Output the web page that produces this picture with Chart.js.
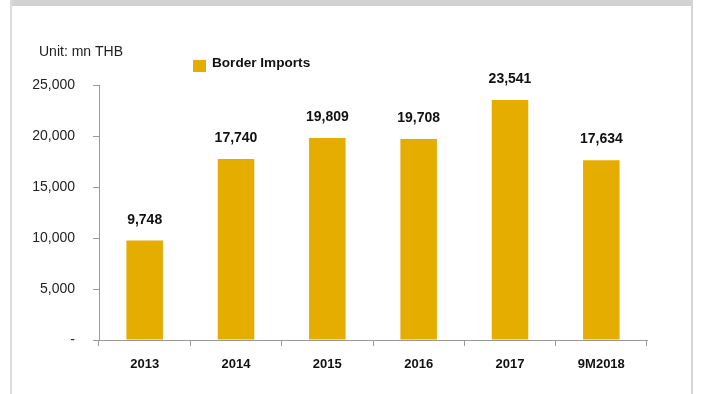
<!DOCTYPE html>
<html>
<head>
<meta charset="utf-8">
<script src="https://cdn.jsdelivr.net/npm/chart.js@4/dist/chart.umd.min.js"></script>
<style>
  html, body { margin: 0; padding: 0; background: #fff; }
  #wrap { position: relative; width: 704px; height: 394px; overflow: hidden; }
  #wrap canvas { position: absolute; left: 0; top: 0; }
  .frame { position: absolute; }
  #frameTop { left: 10px; top: 0; width: 683px; height: 6px; background: #d3d3d3; }
  #frameLeft { left: 10px; top: 0; width: 2px; height: 394px; background: #dcdcdc; }
  #frameRight { left: 691px; top: 0; width: 2px; height: 394px; background: #d6d6d6; }
</style>
</head>
<body>
<div id="wrap">
  <canvas id="chart" width="704" height="394"></canvas>
  <div class="frame" id="frameTop"></div>
  <div class="frame" id="frameLeft"></div>
  <div class="frame" id="frameRight"></div>
</div>
<script>
// Border imports by year, million THB
const categories = ['2013', '2014', '2015', '2016', '2017', '9M2018'];
const borderImports = [9748, 17740, 19809, 19708, 23541, 17634];
const seriesName = 'Border Imports';
const unitLabel = 'Unit: mn THB';
const yTicks = [0, 5000, 10000, 15000, 20000, 25000];

const BAR_COLOR = '#e4ad00';
const AXIS_COLOR = '#9a9a9a';
const FONT = 'Arial, "Liberation Sans", sans-serif';

const fmt = v => v.toLocaleString('en-US');

// Value labels above bars, unit caption and legend entry
const annotations = {
  id: 'annotations',
  afterDatasetsDraw(chart) {
    const ctx = chart.ctx;
    const meta = chart.getDatasetMeta(0);
    const data = chart.data.datasets[0].data;
    ctx.save();
    ctx.fillStyle = '#111';
    ctx.font = 'bold 14px ' + FONT;
    ctx.textAlign = 'center';
    ctx.textBaseline = 'alphabetic';
    meta.data.forEach((bar, i) => {
      ctx.fillText(fmt(data[i]), bar.x, bar.y - 17);
    });

    ctx.textAlign = 'left';
    ctx.font = '14px ' + FONT;
    ctx.fillStyle = '#222';
    ctx.fillText(unitLabel, 39, 56);

    const ds = chart.data.datasets[0];
    ctx.fillStyle = ds.backgroundColor;
    ctx.fillRect(193, 60, 13, 12);
    ctx.fillStyle = '#111';
    ctx.font = 'bold 13.6px ' + FONT;
    ctx.fillText(ds.label, 212, 67);
    ctx.restore();
  }
};

new Chart(document.getElementById('chart'), {
  type: 'bar',
  data: {
    labels: categories,
    datasets: [{
      label: seriesName,
      data: borderImports,
      backgroundColor: BAR_COLOR,
      borderWidth: 0,
      barPercentage: 0.4,
      categoryPercentage: 1.0
    }]
  },
  options: {
    responsive: false,
    animation: false,
    layout: { padding: { left: 0, right: 57, top: 85, bottom: 0 } },
    plugins: {
      legend: { display: false },
      tooltip: { enabled: false }
    },
    scales: {
      x: {
        offset: true,
        grid: {
          offset: true,
          drawOnChartArea: false,
          drawTicks: true,
          tickLength: 6,
          color: AXIS_COLOR
        },
        border: { display: true, color: AXIS_COLOR },
        ticks: {
          color: '#111',
          font: { family: FONT, size: 13, weight: 'bold' },
          padding: 11,
          maxRotation: 0
        },
        afterFit(scale) { scale.height = 54; }
      },
      y: {
        min: 0,
        max: 25000,
        afterBuildTicks(scale) { scale.ticks = yTicks.map(v => ({ value: v })); },
        grid: {
          drawOnChartArea: false,
          drawTicks: true,
          tickLength: 6,
          color: AXIS_COLOR
        },
        border: { display: true, color: AXIS_COLOR },
        ticks: {
          color: '#222',
          font: { family: FONT, size: 14 },
          padding: 18,
          callback: v => (v === 0 ? '-' : fmt(v))
        },
        afterFit(scale) { scale.width = 99; }
      }
    }
  },
  plugins: [annotations]
});
</script>
</body>
</html>
